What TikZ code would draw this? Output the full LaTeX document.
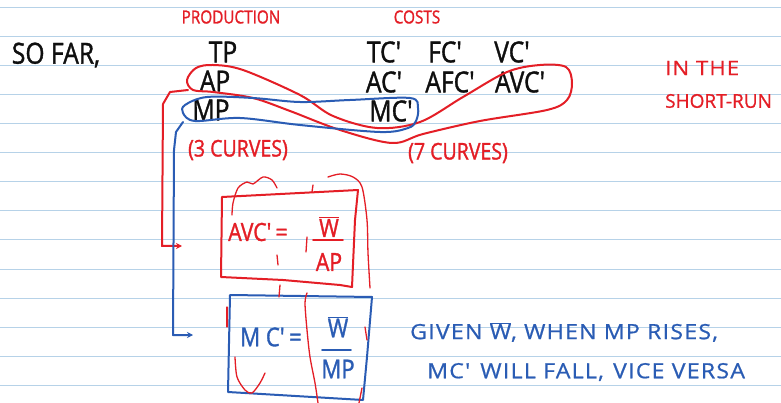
\documentclass[tikz,border=0pt]{standalone}
\usepackage{fontspec}
\setmainfont{Open Sans}[FakeStretch=0.85]
\newfontfamily\handfont{Open Sans}[FakeStretch=0.85,FakeBold=1.2]
\newfontfamily\widehand{Open Sans}[FakeStretch=1.1,FakeBold=0.8,LetterSpace=6]
\newfontfamily\midhand{Open Sans}[FakeStretch=1.0,FakeBold=0.8]
\usetikzlibrary{arrows.meta}
\definecolor{ink}{RGB}{15,15,15}
\definecolor{pred}{RGB}{228,30,38}
\definecolor{pblue}{RGB}{42,92,180}
\definecolor{ruling}{RGB}{182,210,232}
\newcommand{\wbar}{\ensuremath{\overline{\mbox{W}}}}
\begin{document}
\begin{tikzpicture}[x=1pt,y=-1pt,line cap=round,line join=round,
  pen/.style={line width=2pt},
  scrib/.style={pred,line width=1.3pt},
  big/.style={text=ink,inner sep=0pt,font=\handfont\fontsize{29}{31}\selectfont},
  redsmall/.style={text=pred,inner sep=0pt,font=\handfont\fontsize{18}{20}\selectfont},
  redmid/.style={text=pred,inner sep=0pt,font=\handfont\fontsize{23}{25}\selectfont},
  redwide/.style={text=pred,inner sep=0pt,font=\widehand\fontsize{20}{22}\selectfont},
  rednarrow/.style={text=pred,inner sep=0pt,font=\midhand\fontsize{19}{21}\selectfont},
  bluenote/.style={text=pblue,inner sep=0pt,font=\widehand\fontsize{21}{23}\selectfont},
  boxred/.style={text=pred,inner sep=0pt,font=\handfont\fontsize{25}{27}\selectfont},
  boxblue/.style={text=pblue,inner sep=0pt,font=\handfont\fontsize{26}{28}\selectfont},
  tip/.style={-{Stealth[length=6pt,width=6pt]}}]
\useasboundingbox (0,0) rectangle (781,403);
\fill[white] (0,0) rectangle (781,403);
% ruled paper
\foreach \k in {0,...,13}{\draw[ruling,line width=1pt] (0,8+29*\k) -- (781,8+29*\k);}

% headings and lists
\node[big] (sofar) at (56,55) {SO FAR,};
\node[redsmall] (prod) at (231,17) {PRODUCTION};
\node[redsmall] (costs) at (417,17) {COSTS};
\node[big] (tp) at (223,52) {TP};
\node[big] (ap) at (215,81) {AP};
\node[big] (mp) at (211,110) {MP};
\node[big] (tc) at (384,52) {TC'};
\node[big] (fc) at (445,52) {FC'};
\node[big] (vc) at (512,52) {VC'};
\node[big] (ac) at (384,82) {AC'};
\node[big] (afc) at (450,82) {AFC'};
\node[big] (avc) at (520,82) {AVC'};
\node[big] (mc) at (391,111) {MC'};
\node[redmid] (three) at (238,150) {(3 CURVES)};
\node[redmid] (seven) at (458,153) {(7 CURVES)};
\node[redwide,anchor=west] (inthe) at (665,68) {IN THE};
\node[rednarrow,anchor=west] (short) at (665,101) {SHORT-RUN};

% lasso round AP ... AVC
\draw[pred,pen] plot[smooth cycle,tension=0.55] coordinates {
  (187,80) (196,68) (213,65) (243,70) (300,95) (333,116) (377,128)
  (420,122) (463,97) (507,72) (540,65) (566,67) (572,83) (567,100)
  (547,110) (480,121) (423,134) (392,143) (340,130) (290,111)
  (253,98) (213,92) (193,90)};
% lasso round MP and MC
\draw[pblue,pen] plot[smooth cycle,tension=0.55] coordinates {
  (185,105) (207,97) (253,98) (300,102) (350,100) (410,98) (418,108)
  (416,121) (408,128) (380,132) (300,125) (240,118) (195,121) (183,113)};

% boxed formulas
\draw[pred,pen] (222,197) -- (358,190) -- (355,220) -- (352,287)
  -- (340,285) -- (283,280) -- (221,277) -- cycle;
\node[boxred,anchor=west] (avceq) at (228,232) {AVC'\,=};
\node[boxred] (wa) at (329,227) {\wbar};
\node[boxred] (apden) at (329,262) {AP};
\draw[pred,line width=1.8pt] (313,240) -- (343,240);

\draw[pblue,pen] (230,295) -- (372,297) -- (367,357) -- (363,400)
  -- (228,392) -- cycle;
\node[boxblue,anchor=west] (mceq) at (240,337) {M C'\,=};
\node[boxblue] (wm) at (338,327) {\wbar};
\node[boxblue] (mpden) at (338,369) {MP};
\draw[pblue,line width=1.8pt] (322,350) -- (351,350);

% leader lines from the lassos
\coordinate (redfrom) at (188,90);
\coordinate (redto) at (182,246);
\coordinate (bluefrom) at (183,122);
\coordinate (blueto) at (193,335);
\draw[pred,pen,tip] (redfrom) -- (170,92) -- (163,104) -- (162,246) -- (redto);
\draw[pblue,pen,tip] (bluefrom) -- (176,132) -- (174,150) -- (173,335) -- (blueto);

% red scribbles round the formulas
\draw[scrib] plot[smooth] coordinates {(232,215) (233,203) (238,188) (247,182) (253,184) (263,177) (272,180) (277,188)};
\draw[scrib] plot[smooth] coordinates {(328,177) (340,174) (353,177) (362,187) (367,220) (368,253) (370,288)};
\draw[scrib] (313,185) -- (312,192);
\draw[scrib] (307,237) -- (306,252);
\draw[scrib] (277,255) -- (278,265);
\draw[scrib] (280,285) -- (279,297);
\draw[scrib] plot[smooth] coordinates {(307,293) (305,303) (307,330) (310,357) (315,383) (318,403)};
\draw[scrib] (227,307) -- (227,327);
\draw[scrib] plot[smooth] coordinates {(235,357) (237,377) (245,390) (252,393) (260,383) (265,373)};
\draw[scrib] (365,327) -- (367,340);
\draw[scrib] (362,388) -- (359,403);

% note
\node[bluenote,anchor=west] (note1) at (410,332) {GIVEN \wbar, WHEN MP RISES,};
\node[bluenote,anchor=west] (note2) at (427,372) {MC'\hspace{10pt}WILL FALL, \hspace{2pt}VICE VERSA};
\end{tikzpicture}
\end{document}
